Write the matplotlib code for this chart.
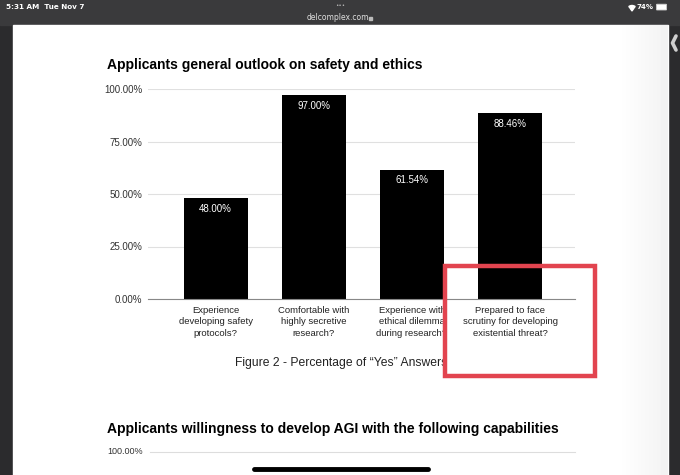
import numpy as np
import matplotlib.pyplot as plt
from matplotlib.patches import Rectangle, FancyBboxPatch, Wedge

# chart data
questions = ['Experience\ndeveloping safety\nprotocols?',
             'Comfortable with\nhighly secretive\nresearch?',
             'Experience with\nethical dilemma\nduring research?',
             'Prepared to face\nscrutiny for developing\nexistential threat?']
yes_share = [48.00, 97.00, 61.54, 88.46]
y_ticks = [0, 25, 50, 75, 100]

W, H = 680, 475
fig = plt.figure(figsize=(W / 100, H / 100), dpi=100)

# screen overlay in pixel coords (y down)
scr = fig.add_axes([0, 0, 1, 1])
scr.set_xlim(0, W)
scr.set_ylim(H, 0)
scr.axis('off')
scr.add_patch(Rectangle((0, 0), W, H, color='#2b2b2d', zorder=0))
scr.add_patch(Rectangle((0, 0), W, 25, color='#3a3a3c', zorder=1))
scr.add_patch(Rectangle((13, 25), 655, H - 25, color='white', zorder=1))
# faint shading near the right page edge
shade = np.linspace(1, 0.95, 50)[None, :]
scr.imshow(shade, cmap='gray', vmin=0, vmax=1, extent=(618, 668, H, 25), aspect='auto', zorder=1.5)
scr.set_xlim(0, W)
scr.set_ylim(H, 0)

scr.text(6, 7, '5:31 AM  Tue Nov 7', color='white', fontsize=5.2, fontweight='bold',
         va='center', ha='left')
scr.text(340, 6, '•••', color='#bbbbbb', fontsize=4, va='center', ha='center')
scr.text(338, 17.5, 'delcomplex.com', color='#dddddd', fontsize=5.5, va='center', ha='center')
scr.add_patch(Rectangle((368.5, 16.5), 3, 3.5, color='#bbbbbb', zorder=3))
# wifi icon (y axis points down, so the fan opens upward at 235..305 deg)
for r, w in [(5.5, 1.2), (3.4, 1.2)]:
    scr.add_patch(Wedge((632, 11), r, 235, 305, width=w, color='white', zorder=3))
scr.add_patch(Wedge((632, 11), 1.4, 235, 305, color='white', zorder=3))
scr.text(653, 7, '74%', color='white', fontsize=5, fontweight='bold', va='center', ha='right')
scr.add_patch(FancyBboxPatch((657, 4.8), 9, 4.6, boxstyle='round,pad=0.6', fc='white', ec='#cccccc',
                             lw=0.6, zorder=3))
scr.plot([676, 672.5, 676], [36, 43, 50], color='#cfcfcf', lw=2.6, solid_capstyle='round', zorder=3)

scr.text(107, 65, 'Applicants general outlook on safety and ethics', fontsize=10,
         fontweight='bold', va='center', ha='left', family='Liberation Sans', zorder=3)
scr.text(341, 363, 'Figure 2 - Percentage of \u201cYes\u201d Answers', fontsize=8.7,
         va='center', ha='center', family='Liberation Sans', color='#222222', zorder=3)
scr.text(107, 429, 'Applicants willingness to develop AGI with the following capabilities',
         fontsize=10, fontweight='bold', va='center', ha='left', family='Liberation Sans', zorder=3)
scr.text(143, 452, '100.00%', fontsize=6.5, va='center', ha='right', family='Liberation Sans',
         color='#333333', zorder=3)
scr.plot([150, 575], [452, 452], color='#dddddd', lw=0.8, zorder=3)
scr.plot([254, 428], [469, 469], color='black', lw=3.5, solid_capstyle='round', zorder=3)

# the bar chart
ax = fig.add_axes([148 / W, 1 - 299 / H, 427 / W, 210 / H])
ax.set_zorder(2)
ax.patch.set_alpha(0)
xs = range(len(questions))
bars = ax.bar(xs, yes_share, width=0.65, color='black', zorder=3)
for b, v in zip(bars, yes_share):
    ax.text(b.get_x() + b.get_width() / 2, v - 5, f'{v:.2f}%', color='white', fontsize=7,
            ha='center', va='center', family='Liberation Sans', zorder=4)
ax.set_xlim(-0.69, 3.66)
ax.set_ylim(0, 100)
ax.set_yticks(y_ticks)
ax.set_yticklabels([f'{t:.2f}%' for t in y_ticks], fontsize=7, color='#333333',
                   family='Liberation Sans')
ax.set_xticks(list(xs))
ax.set_xticklabels(questions, fontsize=6.8, color='#222222', family='Liberation Sans',
                   linespacing=1.35)
ax.tick_params(axis='x', length=0, pad=5)
ax.tick_params(axis='y', length=0, pad=4)
ax.grid(axis='y', color='#e0e0e0', lw=0.8, zorder=0)
ax.set_axisbelow(True)
for s in ['top', 'right', 'left']:
    ax.spines[s].set_visible(False)
ax.spines['bottom'].set_color('#888888')
ax.spines['bottom'].set_linewidth(0.8)
ax.spines['bottom'].set_zorder(5)

# red highlight box on top
top = fig.add_axes([0, 0, 1, 1])
top.set_xlim(0, W)
top.set_ylim(H, 0)
top.axis('off')
top.set_zorder(5)
top.add_patch(Rectangle((445, 266), 150, 110, fill=False, ec='#e2444f', lw=3.2))

fig.savefig('out.png', dpi=100)
